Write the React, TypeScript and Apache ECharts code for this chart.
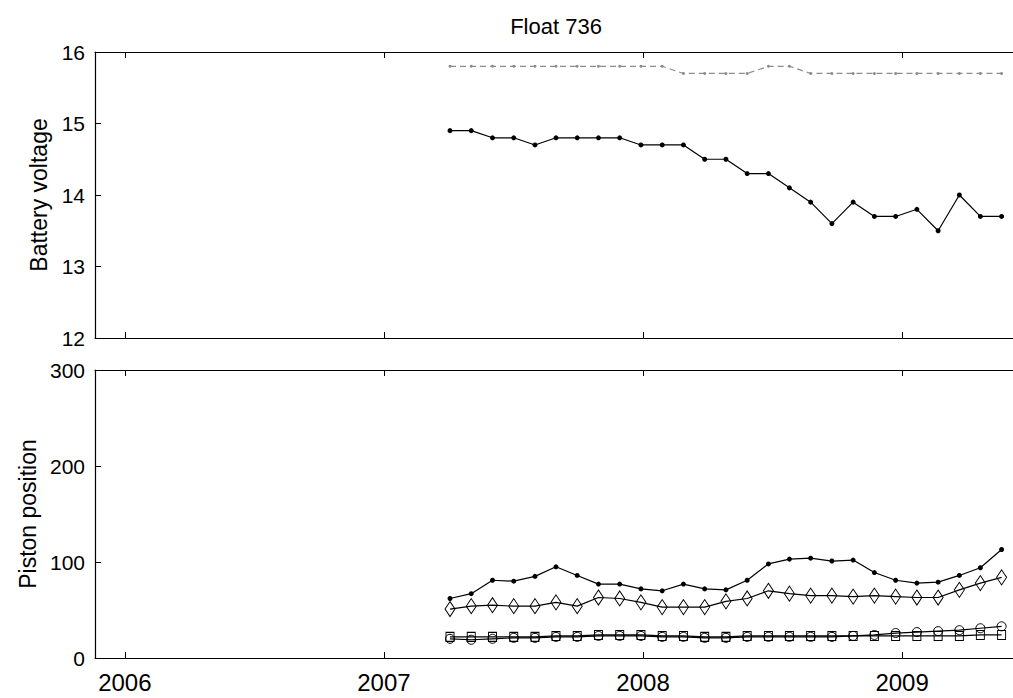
import React, { useEffect, useRef } from "react";
import * as echarts from "echarts";

// Sample dates (decimal years)
const dates = [
  2007.255, 2007.337, 2007.419, 2007.501, 2007.583, 2007.664, 2007.746, 2007.828,
  2007.91, 2007.992, 2008.074, 2008.156, 2008.238, 2008.32, 2008.402, 2008.484,
  2008.565, 2008.647, 2008.729, 2008.811, 2008.893, 2008.975, 2009.057, 2009.139,
  2009.221, 2009.302, 2009.384,
];

// Battery voltage
const voltageLow = [
  14.9, 14.9, 14.8, 14.8, 14.7, 14.8, 14.8, 14.8, 14.8, 14.7, 14.7, 14.7, 14.5, 14.5,
  14.3, 14.3, 14.1, 13.9, 13.6, 13.9, 13.7, 13.7, 13.8, 13.5, 14.0, 13.7, 13.7,
];
const voltageHigh = [
  15.8, 15.8, 15.8, 15.8, 15.8, 15.8, 15.8, 15.8, 15.8, 15.8, 15.8, 15.7, 15.7, 15.7,
  15.7, 15.8, 15.8, 15.7, 15.7, 15.7, 15.7, 15.7, 15.7, 15.7, 15.7, 15.7, 15.7,
];

// Piston positions
const pistonDots = [
  62, 67, 81, 80, 85, 95, 86, 77, 77, 72, 70, 77, 72, 71, 81, 98, 103, 104, 101, 102,
  89, 81, 78, 79, 86, 94, 113,
];
const pistonDiamonds = [
  51, 54, 55, 54, 54, 58, 54, 63, 62, 58, 53, 53, 53, 59, 62, 70, 67, 65, 65, 64, 65,
  64, 63, 63, 71, 78, 84,
];
const pistonSquares = [
  22, 22, 22, 22, 22, 23, 23, 24, 24, 24, 23, 23, 22, 22, 23, 23, 23, 23, 23, 23, 23,
  23, 23, 23, 23, 24, 24,
];
const pistonCircles = [
  20, 19, 20, 21, 21, 22, 22, 23, 23, 23, 22, 22, 21, 21, 22, 22, 22, 22, 22, 23, 24,
  26, 27, 28, 29, 31, 33,
];

const yearTicks = [2006, 2007, 2008, 2009];
const xMin = 2005.8848;
const xMax = 2009.428;

const FONT = "Liberation Sans, Arial, Helvetica, sans-serif";

const pairs = (ys: number[]) => dates.map((d, i) => [d, ys[i]]);

export default function App() {
  const ref = useRef<HTMLDivElement>(null);
  useEffect(() => {
    if (!ref.current) return;
    const chart = echarts.init(ref.current, undefined, { renderer: "svg" });
    const lineAxis = { show: true, lineStyle: { color: "#000", width: 1.2 } };
    const tickX = {
      show: true,
      inside: true,
      length: 6,
      customValues: yearTicks,
      lineStyle: { color: "#000", width: 1 },
    };
    const xBase = (gridIndex: number, position: string, showLabel: boolean) => ({
      type: "value",
      gridIndex,
      position,
      min: xMin,
      max: xMax,
      axisLine: lineAxis,
      axisTick: tickX,
      splitLine: { show: false },
      axisLabel: showLabel
        ? {
            show: true,
            customValues: yearTicks,
            formatter: (v: number) => String(Math.round(v)),
            fontSize: 24,
            color: "#000",
            fontFamily: FONT,
            margin: 12,
          }
        : { show: false },
    });
    const yBase = (gridIndex: number, min: number, max: number, interval: number, name: string) => ({
      type: "value",
      gridIndex,
      min,
      max,
      interval,
      name,
      nameLocation: "middle",
      nameGap: 44,
      nameTextStyle: { fontSize: 23, color: "#000", fontFamily: FONT },
      axisLine: lineAxis,
      axisTick: { show: true, inside: true, length: 6, lineStyle: { color: "#000" } },
      splitLine: { show: false },
      axisLabel: { fontSize: 21, color: "#000", fontFamily: FONT, margin: 10 },
    });
    const blackLine = { color: "#000", width: 1.2 };
    chart.setOption({
      animation: false,
      backgroundColor: "#fff",
      graphic: [
        {
          type: "text",
          x: 556,
          y: 26,
          style: {
            text: "Float 736",
            fontSize: 22,
            fontFamily: FONT,
            fill: "#000",
            textAlign: "center",
            textVerticalAlign: "middle",
          },
        },
      ],
      grid: [
        { left: 95, top: 52, width: 923, height: 286 },
        { left: 95, top: 370, width: 923, height: 288 },
      ],
      xAxis: [
        xBase(0, "bottom", false),
        xBase(0, "top", false),
        xBase(1, "bottom", true),
        xBase(1, "top", false),
      ],
      yAxis: [yBase(0, 12, 16, 1, "Battery voltage"), yBase(1, 0, 300, 100, "Piston position")],
      series: [
        {
          type: "line",
          xAxisIndex: 0,
          yAxisIndex: 0,
          data: pairs(voltageHigh),
          symbol: "circle",
          symbolSize: 3,
          itemStyle: { color: "#8c8c8c" },
          lineStyle: { color: "#8c8c8c", width: 1.2, type: [6, 4] },
        },
        {
          type: "line",
          xAxisIndex: 0,
          yAxisIndex: 0,
          data: pairs(voltageLow),
          symbol: "circle",
          symbolSize: 5,
          itemStyle: { color: "#000" },
          lineStyle: blackLine,
        },
        {
          type: "line",
          xAxisIndex: 2,
          yAxisIndex: 1,
          data: pairs(pistonSquares),
          symbol: "rect",
          symbolSize: [8, 9],
          itemStyle: { color: "transparent", borderColor: "#000", borderWidth: 1 },
          lineStyle: blackLine,
        },
        {
          type: "line",
          xAxisIndex: 2,
          yAxisIndex: 1,
          data: pairs(pistonCircles),
          symbol: "circle",
          symbolSize: 9,
          itemStyle: { color: "transparent", borderColor: "#000", borderWidth: 1 },
          lineStyle: blackLine,
        },
        {
          type: "line",
          xAxisIndex: 2,
          yAxisIndex: 1,
          data: pairs(pistonDiamonds),
          symbol: "diamond",
          symbolSize: [10, 15],
          itemStyle: { color: "transparent", borderColor: "#000", borderWidth: 1 },
          lineStyle: blackLine,
        },
        {
          type: "line",
          xAxisIndex: 2,
          yAxisIndex: 1,
          data: pairs(pistonDots),
          symbol: "circle",
          symbolSize: 5,
          itemStyle: { color: "#000" },
          lineStyle: blackLine,
        },
      ],
    });
    return () => chart.dispose();
  }, []);
  return (
    <div
      ref={ref}
      style={{ position: "absolute", left: 0, top: 0, width: 1013, height: 698 }}
    />
  );
}
